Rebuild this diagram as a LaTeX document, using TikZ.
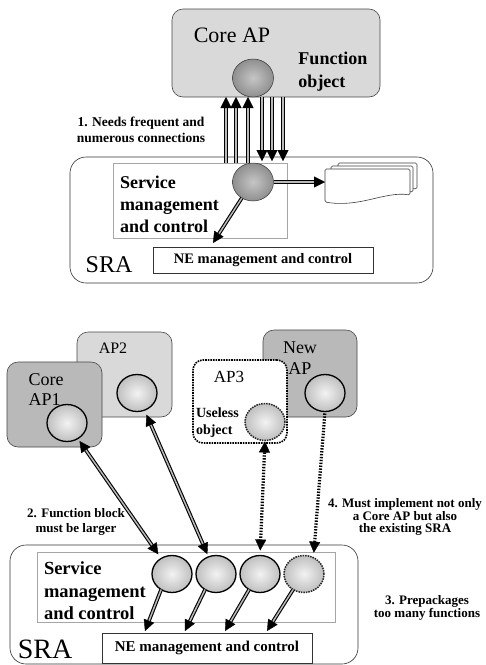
\documentclass[tikz,border=0pt]{standalone}
\usepackage{fontspec}
\setmainfont{Liberation Serif}
\usetikzlibrary{arrows.meta,shapes.geometric}

\begin{document}
\begin{tikzpicture}[x=1pt,y=-1pt,
  every node/.style={inner sep=0pt, outer sep=0pt},
  apbox/.style={rectangle, draw=gray!55!black, line width=0.6pt, rounded corners=11pt, anchor=north west},
  lightap/.style={apbox, fill=gray!30},
  darkap/.style={apbox, fill=gray!55},
  panel/.style={rectangle, draw=gray!70, line width=0.7pt, fill=white, anchor=north west},
  nebox/.style={rectangle, draw=gray!40!black, line width=0.7pt, fill=white, anchor=north west},
  sraframe/.style={rectangle, draw=gray!40!black, line width=0.6pt, rounded corners=16pt, anchor=north west},
  fnball/.style={ellipse, minimum width=41pt, minimum height=38pt, draw=gray!40!black, line width=0.5pt, inner color=gray!45, outer color=gray!88},
  objball/.style={ellipse, minimum width=40pt, minimum height=37pt, draw=black, line width=1.3pt, inner color=gray!10, outer color=gray!50},
  ghostball/.style={objball, draw=black!85, line width=1.5pt, densely dotted},
  tip/.style={-{Triangle[length=11pt,width=11pt,line width=0.4pt]}},
  conn/.style={draw=black, line width=1.1pt, double=gray!55, double distance=1.5pt, tip},
  biconn/.style={conn, {Triangle[length=11pt,width=11pt,line width=0.4pt]}-{Triangle[length=11pt,width=11pt,line width=0.4pt]}},
  dotconn/.style={draw=black, line width=3.2pt, dash pattern=on 1.4pt off 1.5pt, tip},
  bidotconn/.style={dotconn, {Triangle[length=11pt,width=11pt,line width=0.4pt]}-{Triangle[length=11pt,width=11pt,line width=0.4pt]}},
  docpage/.style={draw=black!75, line width=0.6pt, fill=white, rounded corners=1.5pt},
  lbl/.style={font=\bfseries\fontsize{13}{15}\selectfont, align=center},
  svctxt/.style={font=\bfseries\fontsize{18}{22}\selectfont, align=left, anchor=west}
]
\fill[white] (0,0) rectangle (486,665);
\useasboundingbox (0,0) rectangle (486,665);

% ---------- upper scenario: Core AP on top of SRA ----------
\node[lightap, minimum width=208pt, minimum height=88pt] (coreap) at (172,9) {};
\node[font=\fontsize{22}{24}\selectfont] (coreaptxt) at (232,35) {Core AP};
\node[font=\bfseries\fontsize{18}{23}\selectfont, align=left] (fntxt) at (333,72) {Function\\object};
\node[fnball] (fnobj) at (253,78) {};

\node[sraframe, minimum width=363pt, minimum height=126pt] (sra1) at (70,157) {};
\node[panel, minimum width=174pt, minimum height=75pt] (smc1) at (113,163) {};
\node[svctxt] (smc1txt) at (120,204) {Service\\management\\and control};
\node[nebox, minimum width=220pt, minimum height=26pt] (ne1) at (153,247) {};
\node[font=\bfseries\fontsize{14.5}{16}\selectfont] (ne1txt) at (ne1) {NE management and control};
\node[font=\fontsize{24}{26}\selectfont] (sra1txt) at (109,265) {SRA};
\node[fnball] (svc1) at (253,182) {};

% stacked documents
\node[minimum width=85pt, minimum height=36pt, anchor=north west] (docs) at (325,169) {};
\draw[docpage] (338,163) -- (417,163) -- (417,189) .. controls (395,186) and (370,198) .. (338,194) -- cycle;
\draw[docpage] (331,166) -- (413,166) -- (413,192) .. controls (390,189) and (365,202) .. (331,198) -- cycle;
\draw[docpage] (325,169) -- (410,169) -- (410,195) .. controls (385,191) and (360,208) .. (325,202) -- cycle;

% many connections between the two layers
\coordinate (u1) at (226,163);
\coordinate (u2) at (236,163);
\coordinate (u3) at (248,163);
\coordinate (d1) at (262,97);
\coordinate (d2) at (272,97);
\coordinate (d3) at (283,97);
\draw[conn] (u1) -- (u1 |- coreap.south);
\draw[conn] (u2) -- (u2 |- coreap.south);
\draw[conn] (u3) -- (u3 |- coreap.south);
\draw[conn, shorten >=2pt] (d1) -- (d1 |- smc1.north);
\draw[conn, shorten >=2pt] (d2) -- (d2 |- smc1.north);
\draw[conn, shorten >=2pt] (d3) -- (d3 |- smc1.north);

\draw[conn] (svc1.east) -- (svc1.east -| docs.west);
\coordinate (ne1in) at (213,243);
\draw[conn] (svc1.235) -- (ne1in);

\node[lbl, font=\bfseries\fontsize{13.5}{16}\selectfont] (note1) at (141,130) {1. Needs frequent and\\numerous connections};

% ---------- lower scenario: several APs on top of SRA ----------
\node[lightap, minimum width=95pt, minimum height=85pt] (ap2) at (77,332) {};
\node[font=\fontsize{16}{18}\selectfont] (ap2txt) at (113,348) {AP2};
\node[objball] (ap2obj) at (137,393) {};

\node[darkap, minimum width=95pt, minimum height=85pt] (ap1) at (7,362) {};
\node[font=\fontsize{18}{20}\selectfont, align=left] (ap1txt) at (46,390) {Core\\AP1};
\node[objball] (ap1obj) at (67,423) {};

\node[darkap, minimum width=94pt, minimum height=87pt] (newap) at (263,330) {};
\node[font=\fontsize{18}{21}\selectfont, align=center] (newaptxt) at (300,358) {New\\AP};
\node[objball] (newobj) at (325,393) {};

\node[apbox, fill=white, draw=black, line width=1.6pt, densely dotted, rounded corners=10pt, minimum width=94pt, minimum height=83pt] (ap3) at (193,360) {};
\node[font=\fontsize{17}{19}\selectfont] (ap3txt) at (229,377) {AP3};
\node[font=\bfseries\fontsize{14}{17}\selectfont, align=left, anchor=west] (uselesstxt) at (196,423) {Useless\\object};
\node[ghostball] (uselessobj) at (265,422) {};

\node[sraframe, minimum width=348pt, minimum height=119pt] (sra2) at (10,545) {};
\node[panel, minimum width=298pt, minimum height=70pt] (smc2) at (37,552) {};
\node[svctxt, font=\bfseries\fontsize{18.5}{22.5}\selectfont] (smc2txt) at (44,591) {Service\\management\\and control};
\node[nebox, minimum width=210pt, minimum height=30pt] (ne2) at (102,633) {};
\node[font=\bfseries\fontsize{15}{17}\selectfont] (ne2txt) at (ne2) {NE management and control};
\node[font=\fontsize{28}{30}\selectfont] (sra2txt) at (45,649) {SRA};

\node[objball] (b1) at (172,574) {};
\node[objball] (b2) at (216,574) {};
\node[objball] (b3) at (260,574) {};
\node[ghostball] (b4) at (304,574) {};

\draw[biconn, shorten <=3pt, shorten >=5pt] (ap1obj) -- (b1);
\draw[biconn, shorten <=5pt, shorten >=3pt] (ap2obj) -- (b2);
\draw[bidotconn, shorten <=1pt, shorten >=5pt] (uselessobj.south) -- (b3.north);
\draw[dotconn, shorten <=2pt, shorten >=5pt] (newobj.south) -- (b4.60);

\coordinate (t1) at (145,631);
\coordinate (t2) at (185,631);
\coordinate (t3) at (225,631);
\coordinate (t4) at (267,631);
\draw[conn] (b1.235) -- (t1);
\draw[conn] (b2.235) -- (t2);
\draw[conn] (b3.235) -- (t3);
\draw[conn] (b4.235) -- (t4);

\node[lbl] (note2) at (76,522) {2. Function block\\must be larger};
\node[lbl, font=\bfseries\fontsize{13}{12.8}\selectfont] (note4) at (405,517) {4. Must implement not only\\a Core AP but also\\the existing SRA};
\node[lbl, font=\bfseries\fontsize{13}{12}\selectfont] (note3) at (427,608) {3. Prepackages\\too many functions};
\end{tikzpicture}
\end{document}
